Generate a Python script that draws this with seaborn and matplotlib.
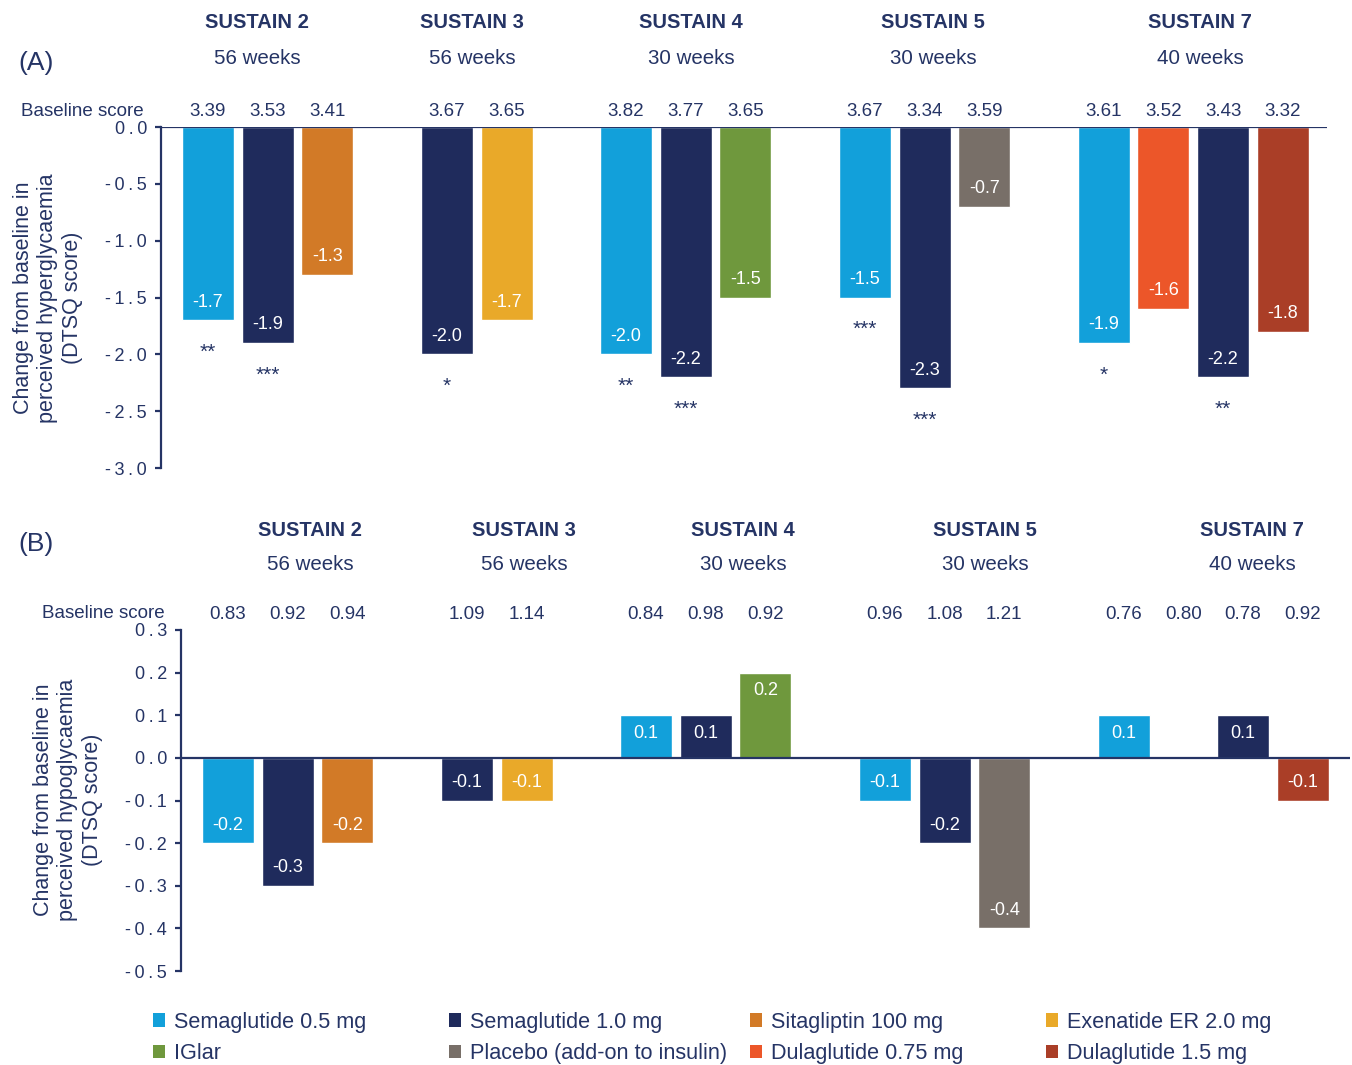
import numpy as np
import pandas as pd
import matplotlib
matplotlib.use("Agg")
import matplotlib.pyplot as plt
import seaborn as sns
from matplotlib.patches import Patch
from matplotlib.transforms import blended_transform_factory

# ---------------- data ----------------
studies = ["SUSTAIN 2", "SUSTAIN 3", "SUSTAIN 4", "SUSTAIN 5", "SUSTAIN 7"]
durations = ["56 weeks", "56 weeks", "30 weeks", "30 weeks", "40 weeks"]
arms = [
    ["Semaglutide 0.5 mg", "Semaglutide 1.0 mg", "Sitagliptin 100 mg"],
    ["Semaglutide 1.0 mg", "Exenatide ER 2.0 mg"],
    ["Semaglutide 0.5 mg", "Semaglutide 1.0 mg", "IGlar"],
    ["Semaglutide 0.5 mg", "Semaglutide 1.0 mg", "Placebo (add-on to insulin)"],
    ["Semaglutide 0.5 mg", "Dulaglutide 0.75 mg", "Semaglutide 1.0 mg", "Dulaglutide 1.5 mg"],
]
hyper_change = [[-1.7, -1.9, -1.3], [-2.0, -1.7], [-2.0, -2.2, -1.5],
                [-1.5, -2.3, -0.7], [-1.9, -1.6, -2.2, -1.8]]
hyper_baseline = [["3.39", "3.53", "3.41"], ["3.67", "3.65"], ["3.82", "3.77", "3.65"],
                  ["3.67", "3.34", "3.59"], ["3.61", "3.52", "3.43", "3.32"]]
hyper_sig = [["**", "***", ""], ["*", ""], ["**", "***", ""],
             ["***", "***", ""], ["*", "", "**", ""]]
hypo_change = [[-0.2, -0.3, -0.2], [-0.1, -0.1], [0.1, 0.1, 0.2],
               [-0.1, -0.2, -0.4], [0.1, 0.0, 0.1, -0.1]]
hypo_baseline = [["0.83", "0.92", "0.94"], ["1.09", "1.14"], ["0.84", "0.98", "0.92"],
                 ["0.96", "1.08", "1.21"], ["0.76", "0.80", "0.78", "0.92"]]

legend_columns = [
    ["Semaglutide 0.5 mg", "IGlar"],
    ["Semaglutide 1.0 mg", "Placebo (add-on to insulin)"],
    ["Sitagliptin 100 mg", "Dulaglutide 0.75 mg"],
    ["Exenatide ER 2.0 mg", "Dulaglutide 1.5 mg"],
]

colors = {
    "Semaglutide 0.5 mg": "#12A0DA",
    "Semaglutide 1.0 mg": "#1F2B5C",
    "Sitagliptin 100 mg": "#D27A27",
    "Exenatide ER 2.0 mg": "#E9A929",
    "IGlar": "#6F983D",
    "Placebo (add-on to insulin)": "#786F68",
    "Dulaglutide 0.75 mg": "#EC5629",
    "Dulaglutide 1.5 mg": "#AA3E27",
}
NAVY = "#253465"

# ---------------- table ----------------
rows = []
pos = 0
for g, study in enumerate(studies):
    for k, arm in enumerate(arms[g]):
        rows.append(dict(study=study, arm=arm, pos=pos,
                         hyper=hyper_change[g][k], hypo=hypo_change[g][k],
                         base_hyper=hyper_baseline[g][k], base_hypo=hypo_baseline[g][k],
                         sig=hyper_sig[g][k]))
        pos += 1
    pos += 1
df = pd.DataFrame(rows)

# ---------------- style ----------------
sns.set_style("white")
plt.rcParams["font.family"] = ["Liberation Sans", "DejaVu Sans"]
plt.rcParams["text.color"] = NAVY

W, H = 1352, 1065
fig = plt.figure(figsize=(W / 100, H / 100), dpi=100)


def fx(px):
    return px / W


def fy(py):
    return 1 - py / H


axA = fig.add_axes([fx(161), fy(468), (1327 - 161) / W, (468 - 127) / H])
axB = fig.add_axes([fx(181), fy(971), (1350 - 181) / W, (971 - 630) / H])

for ax, col, lo, hi, step in [(axA, "hyper", -3.0, 0.0, 0.5), (axB, "hypo", -0.5, 0.3, 0.1)]:
    sns.barplot(data=df, x="pos", y=col, hue="arm", palette=colors, native_scale=True,
                dodge=False, width=0.87, saturation=1, errorbar=None, legend=False, ax=ax)
    ax.set_xlim(-0.787, 18.74 if ax is axA else 18.79)
    ax.set_ylim(lo, hi)
    ticks = np.round(np.arange(lo, hi + step / 2, step), 2)
    ax.set_yticks(ticks)
    ax.set_yticklabels(["\u2009".join(f"{abs(t):.1f}" if abs(t) < 1e-9 else f"{t:.1f}") for t in ticks])
    ax.set_xticks([])
    ax.set_xlabel("")
    ax.set_ylabel("")
    for s in ["top", "right", "bottom"]:
        ax.spines[s].set_visible(False)
    ax.spines["left"].set_color(NAVY)
    ax.spines["left"].set_linewidth(1.6)
    ax.axhline(0, color=NAVY, lw=1.6, zorder=5)
    ax.tick_params(axis="y", colors=NAVY, labelcolor=NAVY, length=4, width=1.6,
                   pad=6, labelsize=13, left=True)
    ax.patch.set_alpha(0)

    tr = blended_transform_factory(ax.transData, ax.transAxes)
    for _, r in df.iterrows():
        v = r[col]
        if v != 0:
            ax.annotate(f"{v:.1f}", xy=(r["pos"], v), xytext=(0, 13 if v < 0 else -13),
                        textcoords="offset points", ha="center", va="center",
                        color="white", fontsize=13, zorder=6)
        base = r["base_hyper"] if ax is axA else r["base_hypo"]
        ax.text(r["pos"], 1.045, base, transform=tr, ha="center", va="center",
                fontsize=13.5, color=NAVY, clip_on=False)
        if ax is axA and r["sig"]:
            ax.annotate(r["sig"], xy=(r["pos"], v), xytext=(0, -27),
                        textcoords="offset points", ha="center", va="baseline",
                        fontsize=15, color=NAVY)

# ---------------- titles & labels ----------------
title_px_A = [257, 472, 691, 933, 1200]
title_px_B = [310, 524, 743, 985, 1252]
for g in range(len(studies)):
    fig.text(fx(title_px_A[g]), fy(23), studies[g], ha="center", va="center",
             fontsize=14.5, fontweight="bold", color=NAVY)
    fig.text(fx(title_px_A[g]), fy(59), durations[g], ha="center", va="center",
             fontsize=14.8, color=NAVY)
    fig.text(fx(title_px_B[g]), fy(530), studies[g], ha="center", va="center",
             fontsize=14.5, fontweight="bold", color=NAVY)
    fig.text(fx(title_px_B[g]), fy(565), durations[g], ha="center", va="center",
             fontsize=14.8, color=NAVY)

fig.text(fx(18), fy(63), "(A)", ha="left", va="center", fontsize=19, color=NAVY)
fig.text(fx(18), fy(544), "(B)", ha="left", va="center", fontsize=19, color=NAVY)
fig.text(fx(144), fy(112), "Baseline score", ha="right", va="center", fontsize=13.5, color=NAVY)
fig.text(fx(165), fy(613), "Baseline score", ha="right", va="center", fontsize=13.5, color=NAVY)

fig.text(fx(48), fy(298), "Change from baseline in\nperceived hyperglycaemia\n(DTSQ score)",
         rotation=90, ha="center", va="center", multialignment="center",
         fontsize=15.5, color=NAVY, linespacing=1.2)
fig.text(fx(68), fy(800), "Change from baseline in\nperceived hypoglycaemia\n(DTSQ score)",
         rotation=90, ha="center", va="center", multialignment="center",
         fontsize=15.5, color=NAVY, linespacing=1.2)

# ---------------- legend ----------------
legend_x_px = [153, 449, 750, 1046]
for xpx, col_items in zip(legend_x_px, legend_columns):
    handles = [Patch(facecolor=colors[a], edgecolor="none") for a in col_items]
    fig.legend(handles=handles, labels=col_items, loc="center left",
               bbox_to_anchor=(fx(xpx), fy(1038)), frameon=False, fontsize=15.6,
               handlelength=0.56, handleheight=0.56, handletextpad=0.4,
               labelspacing=0.5, borderpad=0, borderaxespad=0, labelcolor=NAVY)

fig.savefig("out.png", dpi=100)
